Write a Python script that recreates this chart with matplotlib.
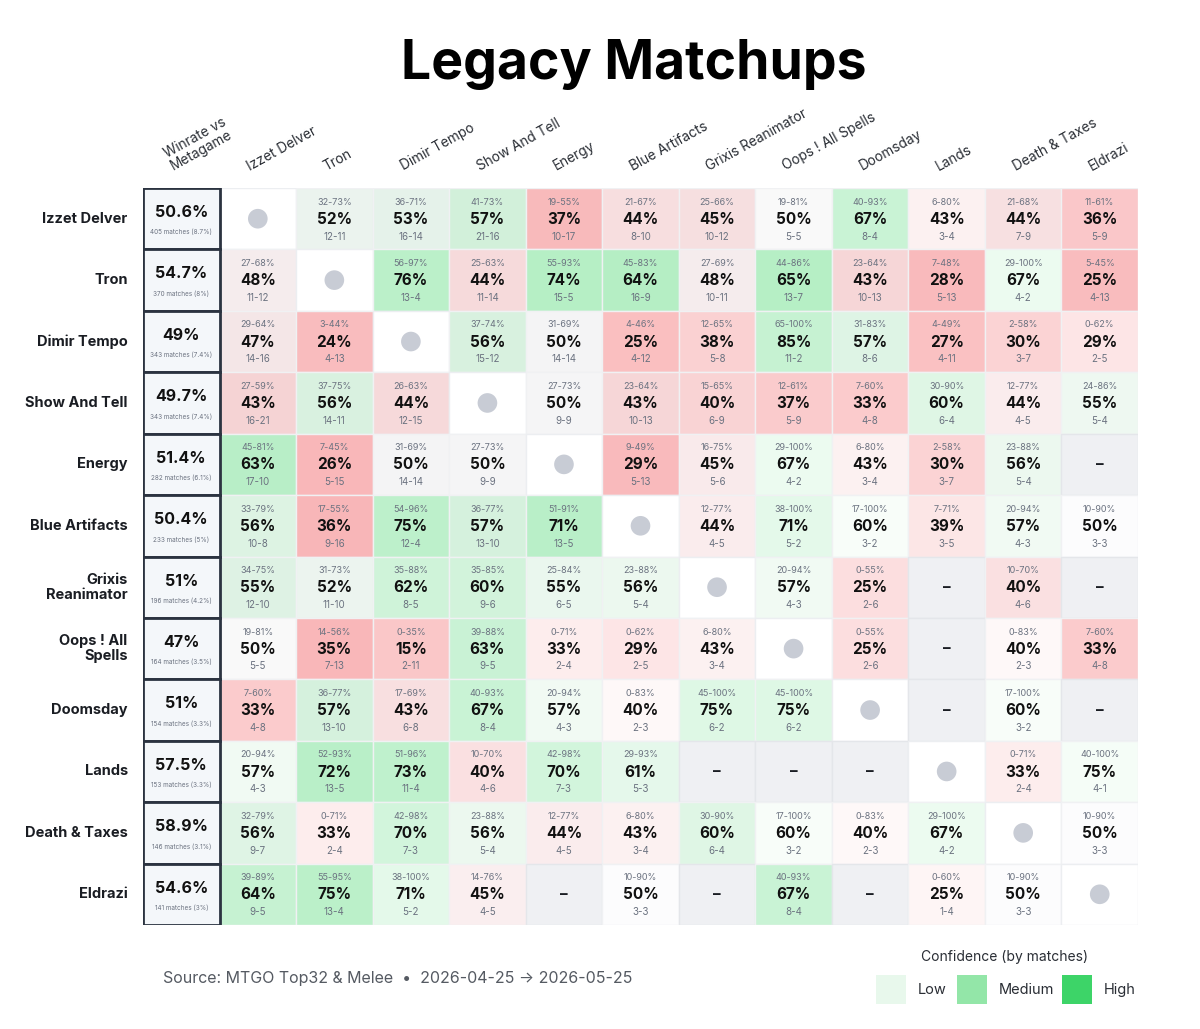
import numpy as np
import matplotlib.pyplot as plt
from matplotlib.patches import Rectangle

plt.rcParams['font.family'] = ['Inter', 'DejaVu Sans']

# decks, in the same order for rows and columns
decks = ['Izzet Delver', 'Tron', 'Dimir Tempo', 'Show And Tell', 'Energy',
         'Blue Artifacts', 'Grixis Reanimator', 'Oops ! All Spells', 'Doomsday',
         'Lands', 'Death & Taxes', 'Eldrazi']
row_labels = ['Izzet Delver', 'Tron', 'Dimir Tempo', 'Show And Tell', 'Energy',
              'Blue Artifacts', 'Grixis\nReanimator', 'Oops ! All\nSpells', 'Doomsday',
              'Lands', 'Death & Taxes', 'Eldrazi']

meta_winrate = [50.6, 54.7, 49, 49.7, 51.4, 50.4, 51, 47, 51, 57.5, 58.9, 54.6]
meta_matches = [405, 370, 343, 343, 282, 233, 196, 164, 154, 153, 146, 141]
meta_share = [8.7, 8, 7.4, 7.4, 6.1, 5, 4.2, 3.5, 3.3, 3.3, 3.1, 3]

N = None
wins = [
    [N, 12, 16, 21, 10, 8, 10, 5, 8, 3, 7, 5],
    [11, N, 13, 11, 15, 16, 10, 13, 10, 5, 4, 4],
    [14, 4, N, 15, 14, 4, 5, 11, 8, 4, 3, 2],
    [16, 14, 12, N, 9, 10, 6, 5, 4, 6, 4, 5],
    [17, 5, 14, 9, N, 5, 5, 4, 3, 3, 5, N],
    [10, 9, 12, 13, 13, N, 4, 5, 3, 3, 4, 3],
    [12, 11, 8, 9, 6, 5, N, 4, 2, N, 4, N],
    [5, 7, 2, 9, 2, 2, 3, N, 2, N, 2, 4],
    [4, 13, 6, 8, 4, 2, 6, 6, N, N, 3, N],
    [4, 13, 11, 4, 7, 5, N, N, N, N, 2, 4],
    [9, 2, 7, 5, 4, 3, 6, 3, 2, 4, N, 3],
    [9, 13, 5, 4, N, 3, N, 8, N, 1, 3, N],
]
losses = [
    [N, 11, 14, 16, 17, 10, 12, 5, 4, 4, 9, 9],
    [12, N, 4, 14, 5, 9, 11, 7, 13, 13, 2, 13],
    [16, 13, N, 12, 14, 12, 8, 2, 6, 11, 7, 5],
    [21, 11, 15, N, 9, 13, 9, 9, 8, 4, 5, 4],
    [10, 15, 14, 9, N, 13, 6, 2, 4, 7, 4, N],
    [8, 16, 4, 10, 5, N, 5, 2, 2, 5, 3, 3],
    [10, 10, 5, 6, 5, 4, N, 3, 6, N, 6, N],
    [5, 13, 11, 5, 4, 5, 4, N, 6, N, 3, 8],
    [8, 10, 8, 4, 3, 3, 2, 2, N, N, 2, N],
    [3, 5, 4, 6, 3, 3, N, N, N, N, 4, 1],
    [7, 4, 3, 4, 5, 4, 4, 2, 3, 2, N, 3],
    [5, 4, 2, 5, N, 3, N, 4, N, 4, 3, N],
]
winrate = [
    [N, 52, 53, 57, 37, 44, 45, 50, 67, 43, 44, 36],
    [48, N, 76, 44, 74, 64, 48, 65, 43, 28, 67, 25],
    [47, 24, N, 56, 50, 25, 38, 85, 57, 27, 30, 29],
    [43, 56, 44, N, 50, 43, 40, 37, 33, 60, 44, 55],
    [63, 26, 50, 50, N, 29, 45, 67, 43, 30, 56, N],
    [56, 36, 75, 57, 71, N, 44, 71, 60, 39, 57, 50],
    [55, 52, 62, 60, 55, 56, N, 57, 25, N, 40, N],
    [50, 35, 15, 63, 33, 29, 43, N, 25, N, 40, 33],
    [33, 57, 43, 67, 57, 40, 75, 75, N, N, 60, N],
    [57, 72, 73, 40, 70, 61, N, N, N, N, 33, 75],
    [56, 33, 70, 56, 44, 43, 60, 60, 40, 67, N, 50],
    [64, 75, 71, 45, N, 50, N, 67, N, 25, 50, N],
]
ci_low = [
    [N, 32, 36, 41, 19, 21, 25, 19, 40, 6, 21, 11],
    [27, N, 56, 25, 55, 45, 27, 44, 23, 7, 29, 5],
    [29, 3, N, 37, 31, 4, 12, 65, 31, 4, 2, 0],
    [27, 37, 26, N, 27, 23, 15, 12, 7, 30, 12, 24],
    [45, 7, 31, 27, N, 9, 16, 29, 6, 2, 23, N],
    [33, 17, 54, 36, 51, N, 12, 38, 17, 7, 20, 10],
    [34, 31, 35, 35, 25, 23, N, 20, 0, N, 10, N],
    [19, 14, 0, 39, 0, 0, 6, N, 0, N, 0, 7],
    [7, 36, 17, 40, 20, 0, 45, 45, N, N, 17, N],
    [20, 52, 51, 10, 42, 29, N, N, N, N, 0, 40],
    [32, 0, 42, 23, 12, 6, 30, 17, 0, 29, N, 10],
    [39, 55, 38, 14, N, 10, N, 40, N, 0, 10, N],
]
ci_high = [
    [N, 73, 71, 73, 55, 67, 66, 81, 93, 80, 68, 61],
    [68, N, 97, 63, 93, 83, 69, 86, 64, 48, 100, 45],
    [64, 44, N, 74, 69, 46, 65, 100, 83, 49, 58, 62],
    [59, 75, 63, N, 73, 64, 65, 61, 60, 90, 77, 86],
    [81, 45, 69, 73, N, 49, 75, 100, 80, 58, 88, N],
    [79, 55, 96, 77, 91, N, 77, 100, 100, 71, 94, 90],
    [75, 73, 88, 85, 84, 88, N, 94, 55, N, 70, N],
    [81, 56, 35, 88, 71, 62, 80, N, 55, N, 83, 60],
    [60, 77, 69, 93, 94, 83, 100, 100, N, N, 100, N],
    [94, 93, 96, 70, 98, 93, N, N, N, N, 71, 100],
    [79, 71, 98, 88, 77, 80, 90, 100, 83, 100, N, 90],
    [89, 95, 100, 76, N, 90, N, 93, N, 60, 90, N],
]

GRAY = np.array([243, 243, 244]) / 255
GREEN = np.array([170, 236, 188]) / 255
RED = np.array([248, 172, 174]) / 255


def cell_color(p, n):
    # hue from winrate, strength from number of matches
    t = min(1, abs(p - 50) / 15)
    base = GRAY + t * ((GREEN if p >= 50 else RED) - GRAY)
    conf = np.clip(1 - np.exp(-(n - 4) / 8), 0.08, 1)
    return tuple(1 - conf * (1 - base))


fig = plt.figure(figsize=(12, 10.29), dpi=100)
ax = fig.add_axes([143 / 1200, 1 - 925 / 1029, 995 / 1200, 737 / 1029])
n = len(decks)
ax.set_xlim(0, n + 1)
ax.set_ylim(n, 0)
ax.axis('off')

# side column: winrate vs metagame
for i in range(n):
    ax.add_patch(Rectangle((0, i), 1, 1, facecolor='#f4f7fa', edgecolor='#2b3340', lw=2, zorder=3))
    ax.text(0.5, i + 0.4, f'{meta_winrate[i]:g}%', ha='center', va='center',
            fontsize=11.5, fontweight='bold', color='#111111', zorder=4)
    ax.text(0.5, i + 0.72, f'{meta_matches[i]} matches ({meta_share[i]:g}%)', ha='center',
            va='center', fontsize=4.6, color='#6b7280', zorder=4)
    ax.text(-0.2, i + 0.5, row_labels[i], ha='right', va='center', multialignment='right',
            fontsize=10.5, fontweight='bold', color='#1a1d23', clip_on=False, linespacing=1.1)

# matchup cells
self_x, self_y = [], []
for i in range(n):
    for j in range(n):
        x = j + 1
        if i == j:
            ax.add_patch(Rectangle((x, i), 1, 1, facecolor='white', edgecolor='#eceef1', lw=1))
            self_x.append(x + 0.5)
            self_y.append(i + 0.5)
            continue
        if wins[i][j] is None:
            ax.add_patch(Rectangle((x, i), 1, 1, facecolor='#eff0f3', edgecolor='#e4e6ea', lw=1))
            ax.text(x + 0.5, i + 0.5, '–', ha='center', va='center', fontsize=11,
                    fontweight='bold', color='#1a1d23')
            continue
        games = wins[i][j] + losses[i][j]
        ax.add_patch(Rectangle((x, i), 1, 1, facecolor=cell_color(winrate[i][j], games),
                               edgecolor='#f0f1f3', lw=1))
        ax.text(x + 0.5, i + 0.23, f'{ci_low[i][j]}-{ci_high[i][j]}%', ha='center', va='center',
                fontsize=6.5, color='#6b7280')
        ax.text(x + 0.5, i + 0.51, f'{winrate[i][j]}%', ha='center', va='center',
                fontsize=11, fontweight='bold', color='#111111')
        ax.text(x + 0.5, i + 0.79, f'{wins[i][j]}-{losses[i][j]}', ha='center', va='center',
                fontsize=7, color='#6b7280')

ax.scatter(self_x, self_y, s=200, color='#c8ccd5', edgecolors='none', zorder=5)

# column headers
headers = ['Winrate vs\nMetagame'] + decks
for k, h in enumerate(headers):
    ax.text(k + 0.42, -0.24, h, rotation=29, rotation_mode='anchor', ha='left', va='bottom',
            fontsize=9.8, color='#2a2e35', clip_on=False, linespacing=1.0)

fig.text(634 / 1200, 1 - 64 / 1029, 'Legacy Matchups', ha='center', va='center',
         fontsize=38.5, fontweight='bold', color='#000000')

fig.text(163 / 1200, 1 - 978 / 1029, 'Source: MTGO Top32 & Melee  •  2026-04-25 → 2026-05-25',
         ha='left', va='center', fontsize=11.5, color='#555a62')

# confidence legend
fig.text(1005 / 1200, 1 - 957 / 1029, 'Confidence (by matches)', ha='center', va='center',
         fontsize=10, color='#2a2e35')
legend_items = [('Low', '#e8f8ec', 876), ('Medium', '#93e6a8', 957), ('High', '#3dd468', 1062)]
for name, col, px in legend_items:
    fig.patches.append(Rectangle((px / 1200, 1 - 1004 / 1029), 30 / 1200, 29 / 1029,
                                 transform=fig.transFigure, facecolor=col, edgecolor='none'))
    fig.text((px + 42) / 1200, 1 - 990 / 1029, name, ha='left', va='center', fontsize=10.5,
             color='#2a2e35')

fig.savefig('out.png', dpi=100, facecolor='white')
